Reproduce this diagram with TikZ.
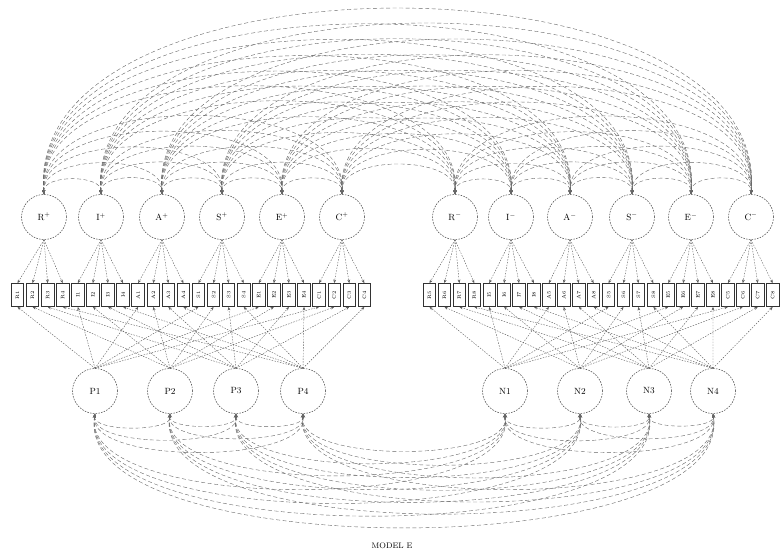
\documentclass[tikz,border=0pt]{standalone}
\usepackage{graphicx}
\usetikzlibrary{arrows.meta,calc}
\begin{document}
\begin{tikzpicture}[x=1pt,y=-1pt,
  lat/.style={circle,draw=black!75,dash pattern=on 1.6pt off 1.2pt,line width=0.5pt,minimum size=45pt,inner sep=0pt,font=\fontsize{9}{10}\selectfont},
  obs/.style={rectangle,draw=black!80,line width=0.8pt,minimum width=12.5pt,minimum height=23pt,inner sep=0pt,font=\fontsize{5}{6}\selectfont},
  load/.style={draw=black!65,line width=0.4pt,dash pattern=on 1.5pt off 1.3pt,-{Stealth[length=3.5pt,width=2.8pt]}},
  cov/.style={draw=black!60,line width=0.4pt,dash pattern=on 4pt off 2.5pt,{Stealth[length=4pt,width=3pt]}-{Stealth[length=4pt,width=3pt]}},
  capt/.style={font=\fontsize{8}{9}\selectfont}
]
\useasboundingbox (0,0) rectangle (784,555);

% top latent factors
\foreach \i/\x/\t in {1/44/R$^+$,2/101/I$^+$,3/162/A$^+$,4/222/S$^+$,5/282/E$^+$,6/342/C$^+$,
                      7/455/R$^-$,8/511/I$^-$,9/570/A$^-$,10/632/S$^-$,11/691/E$^-$,12/751/C$^-$}
  \node[lat] (t\i) at (\x,217) {\t};

% bottom latent factors
\foreach \i/\x/\t in {1/95/P1,2/170/P2,3/236/P3,4/303/P4,5/505/N1,6/580/N2,7/649/N3,8/713/N4}
  \node[lat] (q\i) at (\x,391) {\t};

% indicator boxes
\foreach \g/\L in {0/R,1/I,2/A,3/S,4/E,5/C}{
  \foreach \m in {0,...,3}{
    \pgfmathtruncatemacro\nl{\m+1}
    \pgfmathtruncatemacro\nr{\m+5}
    \node[obs] (bl-\g-\m) at ({17.5+15.08*(4*\g+\m)},295) {\rotatebox{90}{\L\nl}};
    \node[obs] (br-\g-\m) at ({429.5+14.92*(4*\g+\m)},295) {\rotatebox{90}{\L\nr}};
  }
}

% loadings of top factors
\foreach \g [evaluate=\g as \a using int(\g+1), evaluate=\g as \b using int(\g+7)] in {0,...,5}{
  \foreach \m in {0,...,3}{
    \draw[load] (t\a.south) -- (bl-\g-\m.north);
    \draw[load] (t\b.south) -- (br-\g-\m.north);
  }
}

% loadings of bottom factors
\foreach \m [evaluate=\m as \a using int(\m+1), evaluate=\m as \b using int(\m+5)] in {0,...,3}{
  \foreach \g in {0,...,5}{
    \draw[load] (q\a.north) -- (bl-\g-\m.south);
    \draw[load] (q\b.north) -- (br-\g-\m.south);
  }
}

% covariances among top factors
\foreach \i in {1,...,11}{
  \pgfmathtruncatemacro\s{\i+1}
  \foreach \j in {\s,...,12}{
    \draw[cov] let \p1=(t\i.north), \p2=(t\j.north),
      \n1={0.35*(\x2-\x1)}, \n2={-0.03*(\x2-\x1)} in
      (t\i.north) .. controls +({\n2*1pt},{\n1*1pt}) and +({-\n2*1pt},{\n1*1pt}) .. (t\j.north);
  }
}

% covariances among bottom factors
\foreach \i in {1,...,7}{
  \pgfmathtruncatemacro\s{\i+1}
  \foreach \j in {\s,...,8}{
    \draw[cov] let \p1=(q\i.south), \p2=(q\j.south),
      \n1={0.245*(\x2-\x1)}, \n2={-0.04*(\x2-\x1)} in
      (q\i.south) .. controls +({\n2*1pt},{-\n1*1pt}) and +({-\n2*1pt},{-\n1*1pt}) .. (q\j.south);
  }
}

\node[capt] (caption) at (392,546) {MODEL E};
\end{tikzpicture}
\end{document}
